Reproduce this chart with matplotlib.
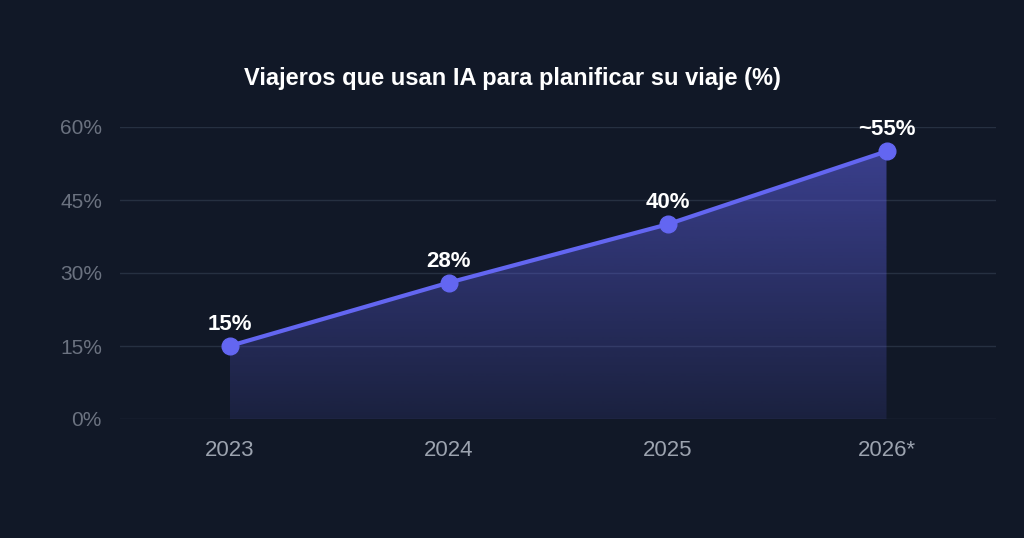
import numpy as np
import matplotlib
matplotlib.use("Agg")
import matplotlib.pyplot as plt
from matplotlib.colors import LinearSegmentedColormap

plt.rcParams['font.family'] = ['Liberation Sans', 'DejaVu Sans']

years = ["2023", "2024", "2025", "2026*"]
values = [15, 28, 40, 55]
labels = ["15%", "28%", "40%", "~55%"]
yticks = [0, 15, 30, 45, 60]

bg = "#111827"
line_col = "#6366f1"

fig = plt.figure(figsize=(10.24, 5.38), dpi=100, facecolor=bg)
ax = fig.add_axes([120/1024, 119/538, 876/1024, 292/538])
ax.set_facecolor(bg)

x = np.arange(len(years))

# gradient fill under the line
cmap = LinearSegmentedColormap.from_list("fade", [(0.39, 0.40, 0.95, 0.12), (0.39, 0.40, 0.95, 0.5)])
grad = np.linspace(0, 1, 256).reshape(-1, 1)
img = ax.imshow(grad, cmap=cmap, aspect="auto", origin="lower",
                extent=[x[0], x[-1], 0, max(values)], zorder=1)
poly = ax.fill_between(x, values, 0, color="none", lw=0)
img.set_clip_path(poly.get_paths()[0], transform=ax.transData)

ax.plot(x, values, color=line_col, lw=3, marker="o", markersize=12, zorder=3)

for xi, v, lab in zip(x, values, labels):
    ax.annotate(lab, (xi, v), xytext=(0, 15.5), textcoords="offset points",
                ha="center", va="center", color="white", fontsize=16,
                fontweight="bold", zorder=4)

ax.set_xlim(-0.5, 3.5)
ax.set_ylim(0, 60)
ax.set_xticks(x)
ax.set_xticklabels(years)
ax.set_yticks(yticks)
ax.set_yticklabels([f"{t}%" for t in yticks])
ax.tick_params(axis="x", colors="#9ca3af", labelsize=16, length=0, pad=15)
ax.tick_params(axis="y", colors="#6b7280", labelsize=15, length=0, pad=13)
ax.grid(axis="y", color="#263041", lw=1)
ax.set_axisbelow(True)
for s in ax.spines.values():
    s.set_visible(False)

fig.text(0.5, 1 - 78/538, "Viajeros que usan IA para planificar su viaje (%)",
         ha="center", va="center", color="white", fontsize=17, fontweight="bold")

fig.savefig("out.png", dpi=100, facecolor=bg)
